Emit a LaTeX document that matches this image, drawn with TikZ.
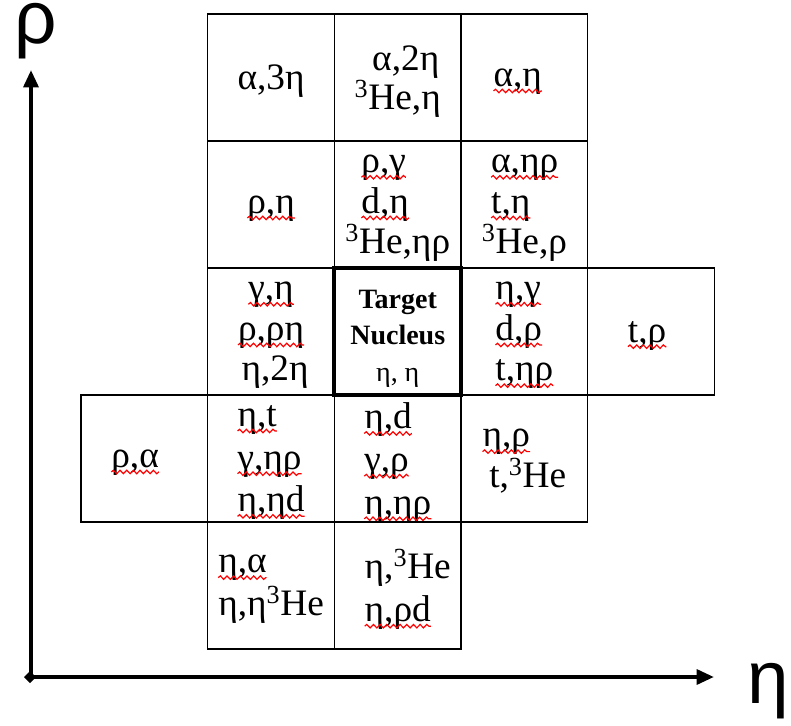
\documentclass[tikz,border=0pt]{standalone}
\usepackage{fontspec}
\setmainfont{Liberation Serif}
\newfontfamily\axisfont{Liberation Sans}
\usetikzlibrary{arrows.meta, positioning, decorations.pathmorphing}
\newcommand\redwave[1]{\tikz[baseline=(w.base)]{\node[rectangle, inner sep=0pt, outer sep=0pt, minimum width=0pt, minimum height=0pt, draw=none, fill=none, text depth=] (w) {#1};
  \draw[overlay, red, line width=0.9pt, decorate, decoration={snake, amplitude=1.3pt, segment length=5pt}] ([yshift=-3.5pt]w.base west) -- ([yshift=-3.5pt]w.base east);}}

\begin{document}
\begin{tikzpicture}[
    x=0.75pt, y=0.75pt,
    node distance=0pt,
    cell/.style={rectangle, draw, line width=1pt, minimum width=95pt, minimum height=95.25pt, inner sep=0pt, outer sep=0pt, text depth=0pt, align=center, font=\fontsize{28}{30.5}\selectfont},
    lcell/.style={cell, align=left},
    tall/.style={font=\fontsize{28}{32}\selectfont},
    target/.style={cell, line width=3pt, font=\fontsize{21}{27.5}\selectfont},
    axis/.style={line width=3pt, -{Triangle[length=13pt, width=11pt]}},
    axislabel/.style={font=\axisfont\fontsize{56}{56}\selectfont, inner sep=0pt, anchor=base}
]
\useasboundingbox (0,0) rectangle (791,725);
\node[target] (tgt) at (397.75,393.5) {\rule{0pt}{20pt}\textbf{Target}\\\textbf{Nucleus}\\η, η};
\node[cell, left=of tgt] (gn) {\redwave{γ,η}\\\redwave{ρ,ρη}\\\hspace*{6pt}η,2η};
\node[lcell, right=of tgt] (ng) {\redwave{η,γ}\\\redwave{d,ρ}\\\redwave{t,ηρ}};
\node[cell, right=of ng] (tp) {\redwave{t,ρ}\hspace*{6pt}};
\node[lcell, above=of tgt] (pg) {\hspace*{12pt}\redwave{ρ,γ}\\\hspace*{12pt}\redwave{d,η}\\\textsuperscript{3}He,ηρ};
\node[cell, above=of gn] (pn) {\redwave{ρ,η}};
\node[lcell, above=of ng] (anp) {\hspace*{7pt}\redwave{α,ηρ}\\\hspace*{7pt}\redwave{t,η}\\\textsuperscript{3}He,ρ};
\node[cell, above=of pg, font=\fontsize{28}{26}\selectfont] (an2) {\hspace*{12pt}α,2η\\\textsuperscript{3}He,η};
\node[cell, above=of pn] (an3) {α,3η};
\node[cell, above=of anp] (an) {\redwave{α,η}\hspace*{10pt}};
\node[lcell, tall, below=of tgt] (nd) {\redwave{η,d}\\\redwave{γ,ρ}\\\redwave{η,ηρ}};
\node[lcell, tall, below=of gn] (nt) {\redwave{η,t}\\\redwave{γ,ηρ}\\\redwave{η,ηd}};
\node[lcell, below=of ng] (npr) {\redwave{η,ρ}\\\hspace*{5pt}t,\textsuperscript{3}He};
\node[cell, left=of nt] (pa) {\redwave{ρ,α}\hspace*{14pt}};
\node[lcell, tall, below=of nd] (nhe) {\hspace*{15pt}η,\textsuperscript{3}He\\\hspace*{15pt}\redwave{η,ρd}};
\node[lcell, tall, below=of nt] (na) {\redwave{η,α}\\η,η\textsuperscript{3}He};
\coordinate (orig) at (31,48);
\coordinate (xstart) at (24,48);
\coordinate (ytip) at (31,655);
\coordinate (xtip) at (714,48);
\draw[axis] (orig) -- (ytip);
\draw[axis, {Diamond[length=9pt, width=9pt]}-{Triangle[length=13pt, width=11pt]}] (xstart) -- (xtip);
\node[axislabel] (ylab) at (36,681) {ρ};
\node[axislabel] (xlab) at (768,22) {η};
\end{tikzpicture}
\end{document}
